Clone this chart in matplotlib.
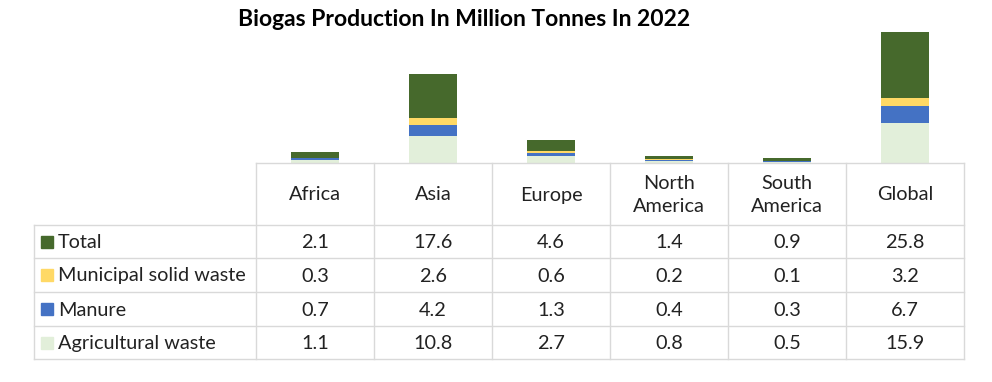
import matplotlib.pyplot as plt
from matplotlib.patches import Rectangle

regions = ['Africa', 'Asia', 'Europe', 'North\nAmerica', 'South\nAmerica', 'Global']
series = ['Total', 'Municipal solid waste', 'Manure', 'Agricultural waste']
total = [2.1, 17.6, 4.6, 1.4, 0.9, 25.8]
msw = [0.3, 2.6, 0.6, 0.2, 0.1, 3.2]
manure = [0.7, 4.2, 1.3, 0.4, 0.3, 6.7]
agri = [1.1, 10.8, 2.7, 0.8, 0.5, 15.9]
colors = ['#46692C', '#FFD966', '#4472C4', '#E2EFDA']

plt.rcParams['font.family'] = ['Lato', 'DejaVu Sans']

W, H = 992, 382
fig = plt.figure(figsize=(W / 100, H / 100), dpi=100)

# table geometry in pixels (from top-left)
x_left, x0, x1 = 34, 256, 964
col_w = (x1 - x0) / len(regions)
y_head, y_rows = 163, [225, 258, 292, 326, 359]
fs = 14.3

# bar axes, sits right on top of the table header
ymax = 52
px_per_unit = 131 / 51.6
ax_h = ymax * px_per_unit
ax = fig.add_axes([x0 / W, (H - y_head) / H, (x1 - x0) / W, ax_h / H])
idx = range(len(regions))
bottom = [0] * len(regions)
for vals, c in [(agri, colors[3]), (manure, colors[2]), (msw, colors[1]), (total, colors[0])]:
    ax.bar(idx, vals, width=0.4, bottom=bottom, color=c)
    bottom = [b + v for b, v in zip(bottom, vals)]
ax.set_xlim(-0.5, len(regions) - 0.5)
ax.set_ylim(0, ymax)
ax.axis('off')

# overlay for the data table
tx = fig.add_axes([0, 0, 1, 1])
tx.set_xlim(0, W)
tx.set_ylim(H, 0)
tx.axis('off')
grid = '#D9D9D9'

tx.plot([x0, x1], [y_head, y_head], color=grid, lw=1)
for y in y_rows:
    tx.plot([x_left, x1], [y, y], color=grid, lw=1)
for i in range(len(regions) + 1):
    tx.plot([x0 + i * col_w] * 2, [y_head, y_rows[-1]], color=grid, lw=1)
tx.plot([x_left, x_left], [y_rows[0], y_rows[-1]], color=grid, lw=1)

for i, r in enumerate(regions):
    tx.text(x0 + (i + 0.5) * col_w, (y_head + y_rows[0]) / 2 + 1, r, ha='center', va='center',
            fontsize=fs, color='#222222', linespacing=1.45)

data = [total, msw, manure, agri]
for j, (name, vals) in enumerate(zip(series, data)):
    yc = (y_rows[j] + y_rows[j + 1]) / 2
    tx.add_patch(Rectangle((41, yc - 6), 12, 12, color=colors[j]))
    tx.text(58, yc + 1, name, ha='left', va='center', fontsize=fs, color='#222222')
    for i, v in enumerate(vals):
        tx.text(x0 + (i + 0.5) * col_w, yc + 1, f'{v:.1f}', ha='center', va='center',
                fontsize=fs, color='#222222')

fig.text(464 / W, 1 - 20 / H, 'Biogas Production In Million Tonnes In 2022', ha='center', va='center',
         fontsize=16.5, fontweight='bold', color='black')

fig.savefig('out.png', dpi=100)
